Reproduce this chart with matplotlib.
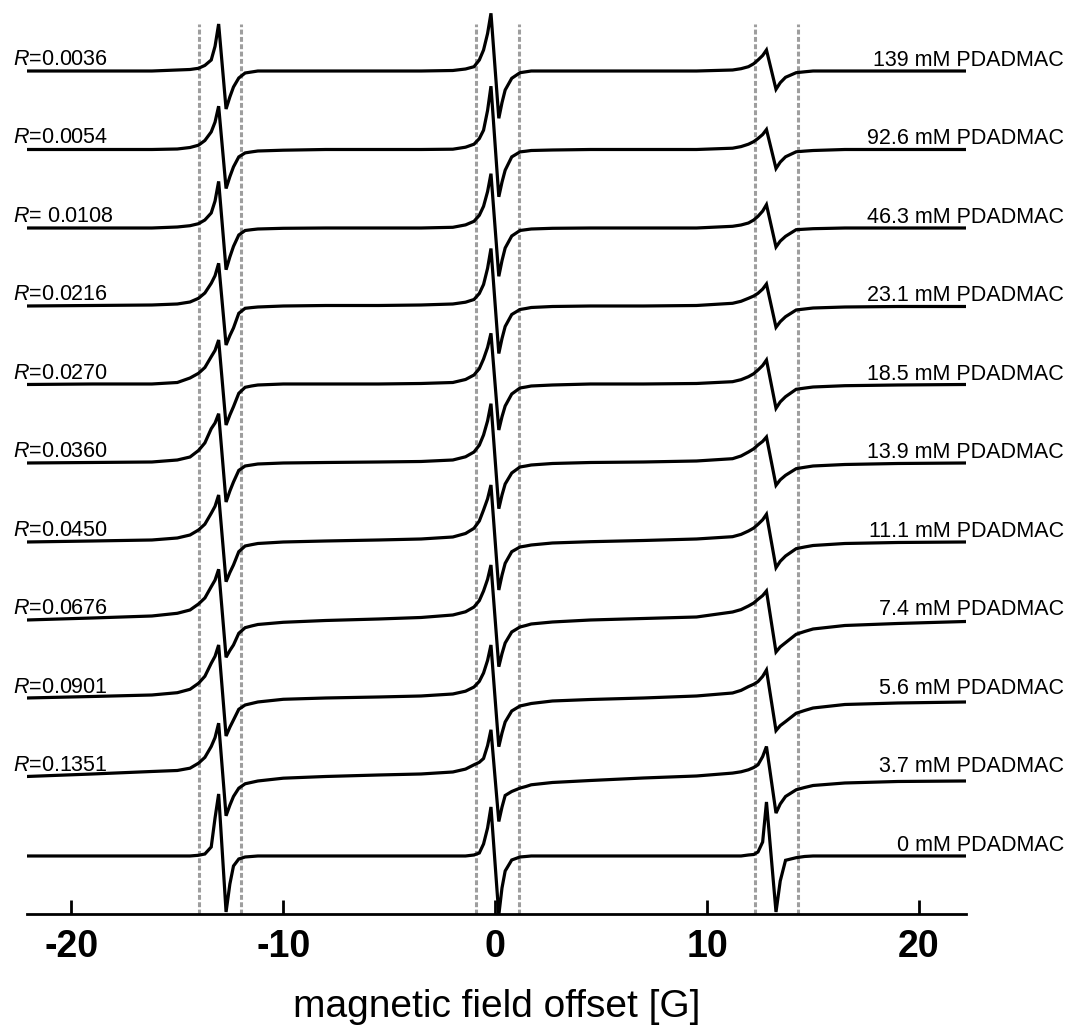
import numpy as np
import matplotlib.pyplot as plt
from matplotlib.transforms import blended_transform_factory

plt.rcParams['font.family'] = ['Liberation Sans', 'DejaVu Sans']
plt.rcParams['mathtext.fontset'] = 'custom'
plt.rcParams['mathtext.rm'] = 'Liberation Sans'
plt.rcParams['mathtext.it'] = 'Liberation Sans:italic'
plt.rcParams['axes.unicode_minus'] = False

# field offset [G] of the sampled points (low-field, central and high-field line)
field = [-22.1, -19.0, -16.2, -15.0, -14.4, -14.0, -13.7, -13.4, -13.22, -13.05,
         -12.7, -12.52, -12.35, -12.1, -11.8, -11.5, -11.2, -10.0, -8.0, -5.5, -3.5,
         -2.0, -1.4, -1.0, -0.75, -0.55, -0.36, -0.2, 0.17, 0.32, 0.47,
         0.78, 1.17, 1.45, 1.7, 2.7, 4.5, 7.0, 9.5,
         11.2, 11.6, 11.95, 12.2, 12.4, 12.62, 12.8, 13.25, 13.45, 13.7,
         14.2, 14.6, 15.0, 16.5, 19.0, 22.2]

# EPR signal (a.u.) for each PDADMAC concentration
s139 = [0, 0, 0, 1, 1.5, 2.7, 5.6, 11, 24.7, 47,
        -38, -25.9, -16, -7, -2, -1, 0, 0, 0, 0, 0,
        0.5, 2, 4.3, 11, 21, 37.5, 57.7, -47.3, -31.7, -19,
        -7.3, -1.7, -0.8, 0, 0, 0, 0, 0,
        1, 2.3, 4.3, 7.3, 11, 15.5, 21, -18.3, -11.7, -6.3,
        -1.7, -0.8, 0, 0, 0, 0]
s92_6 = [0, 0, 0, 0.5, 2, 4.3, 9, 17.6, 27.4, 43.3,
         -39, -27.1, -17.4, -7.4, -3.4, -2.4, -1.5, -0.7, 0, 0, 0,
         0.3, 2.3, 5.3, 10.9, 19.3, 39.1, 63.3, -47.3, -32.7, -20.7,
         -7.4, -2.4, -1.7, -1, -0.5, 0, 0, 0,
         1.3, 2.9, 5.3, 7.9, 11, 15, 20, -19, -12.6, -7.3,
         -2.3, -1.6, -1, 0, 0, 0]
s46_3 = [0, 0, 0, 1, 2.3, 4.3, 8, 15, 27, 46.6,
         -41.7, -28.9, -18.4, -7, -2.5, -1.7, -1, -0.3, 0, 0, 0,
         0.7, 3.1, 6.7, 12.7, 21.7, 36.4, 54.3, -48.3, -32.7, -20,
         -8, -2.5, -1.7, -1, -0.3, 0, 0, 0,
         1.7, 3, 5, 8, 11.7, 16.9, 23.3, -19, -13.1, -8.3,
         -1.7, -1.2, -0.7, 0, 0, 0]
s23_1 = [0.5, 1, 1.5, 2.5, 4.5, 8.2, 13.5, 23.2, 30.8, 43.2,
         -38.5, -29.1, -21.5, -6.8, -1.8, -1.1, -0.5, 0.5, 1, 1, 1.5,
         2.5, 4.3, 7, 13, 22, 38.2, 58, -47, -32.1, -20,
         -8, -3, -2, -1, 0, 0.5, 0.5, 1,
         3.2, 5.2, 8.2, 10.5, 13.2, 17.4, 22.5, -20.8, -15.2, -10.2,
         -3.5, -2.5, -1.5, -0.5, 0, 0]
s18_5 = [0.5, 1, 1, 2.5, 7, 11.7, 17.5, 28.3, 34.6, 45,
         -40, -30, -21.7, -8.3, -2.3, -1, 0, 1, 1, 1, 1.5,
         2.5, 5.5, 10, 16.4, 26, 37.6, 51.7, -45, -31.8, -21,
         -9, -3, -2, -1, 0, 1, 1, 1.5,
         3.3, 5.3, 8.3, 11.3, 15, 19.5, 25, -23.3, -16.9, -11.7,
         -4.3, -3.1, -2, -0.7, 0, 0.5]
s13_9 = [0.5, 1, 1.5, 3.5, 6.5, 13, 20.6, 34.8, 40.5, 49.8,
         -38.5, -27.5, -18.5, -6.9, -2.5, -1.5, -0.5, 0.5, 1, 1.5, 2,
         3.5, 6.7, 11.5, 18.3, 28.5, 42.6, 59.8, -45.2, -31.6, -20.5,
         -9.5, -3.5, -2.5, -1.5, 0, 1, 1.5, 2.5,
         4.8, 7.5, 11.5, 14.7, 18.5, 22.1, 26.5, -21.8, -16.3, -11.8,
         -5.2, -3.8, -2.5, -1, 0, 0.5]
s11_1 = [0, 1, 2, 4, 7, 12, 17.8, 28.7, 35.7, 47,
         -39.7, -30.5, -23, -9.7, -4, -2.7, -1.5, 0, 1, 2, 3,
         5, 8.5, 13.7, 21, 32, 43.2, 57, -48, -33.3, -21.3,
         -9.7, -5, -4, -3, -1, 0.3, 1.5, 3,
         5.3, 7.6, 11, 14, 17.7, 22.2, 27.7, -25.7, -19.3, -14,
         -6.7, -5, -3.5, -1.5, -0.5, 0]
s7_4 = [0.5, 2.5, 4.5, 7.2, 10.5, 16.5, 22.5, 33.8, 40.4, 51.2,
        -36.8, -30, -24.5, -12.8, -7.2, -5.5, -4, -1.8, 0, 1.5, 3,
        5.5, 8.7, 13.5, 19.9, 29.5, 41.2, 55.5, -46.2, -33.2, -22.5,
        -11.5, -6.5, -5, -3.5, -1.5, 0.5, 2, 3.5,
        8.5, 10.9, 14.5, 17.5, 21.2, 24.9, 29.5, -31.5, -26.4, -22.2,
        -13.8, -11, -8.5, -5, -3, -1]
s5_6 = [1, 2.5, 4, 6.3, 9.7, 15.7, 22.7, 35.7, 42.7, 54,
        -37, -28.2, -21, -10.3, -6, -4.5, -3, -0.3, 1, 2, 3,
        5, 7.8, 12, 17.6, 26, 38.6, 54, -47.7, -34.1, -23,
        -12, -7, -5.7, -4.5, -2, -0.5, 1, 3,
        6, 8.6, 12.4, 14.7, 17.4, 22.6, 29, -31.6, -26.6, -22.6,
        -14.3, -11.5, -9, -5.5, -4, -3]
s3_7 = [1, 3.5, 6, 7, 9.3, 14.3, 20.1, 31, 39.9, 54.3,
        -38.3, -27.7, -19, -10.7, -6.3, -4.9, -3.5, -0.7, 1, 2.5, 3.5,
        5.5, 8.4, 12.7, 15.2, 19, 31.9, 47.7, -44, -29.7, -18,
        -14, -10.6, -9, -7.3, -5, -3, -0.5, 1.5,
        4.4, 5.7, 7.7, 10, 12.7, 20.9, 31, -35.6, -26.5, -19,
        -12.3, -10, -8, -5.5, -4, -3.5]
s0 = [0, 0, 0, 0, 0, 0.7, 2, 9, 38, 62,
      -56, -28, -10, -3, -1, -0.5, 0, 0, 0, 0, 0,
      0, 0, 1, 3, 12, 28, 49, -59, -32, -15,
      -4, -1, -0.5, 0, 0, 0, 0, 0,
      0, 0, 1, 1.5, 4, 14, 54, -56, -25, -4.3,
      -1.7, -0.5, 0, 0, 0, 0]

# top to bottom
spectra = [s139, s92_6, s46_3, s23_1, s18_5, s13_9, s11_1, s7_4, s5_6, s3_7, s0]
conc_labels = ['139 mM PDADMAC', '92.6 mM PDADMAC', '46.3 mM PDADMAC',
               '23.1 mM PDADMAC', '18.5 mM PDADMAC', '13.9 mM PDADMAC',
               '11.1 mM PDADMAC', '7.4 mM PDADMAC', '5.6 mM PDADMAC',
               '3.7 mM PDADMAC', '0 mM PDADMAC']
ratio_labels = ['0.0036', '0.0054', ' 0.0108', '0.0216', '0.0270', '0.0360',
                '0.0450', '0.0676', '0.0901', '0.1351']
guide_lines = [-14.0, -12.0, -0.9, 1.1, 12.25, 14.3]

fig = plt.figure(figsize=(10.7, 10.31), dpi=100)
ax = fig.add_axes([0.0251, 0.1135, 0.8774, 0.8865])

for g in guide_lines:
    ax.axvline(g, ymin=0, ymax=0.974, color='#9e9e9e', lw=2.2,
               ls=(0, (1.6, 0.8)), zorder=1)

trans = blended_transform_factory(fig.transFigure, ax.transData)
n = len(spectra)
for i, s in enumerate(spectra):
    off = 58 + 78.5 * (n - 1 - i)
    ax.plot(field, np.array(s) + off, color='black', lw=2.3,
            solid_joinstyle='miter', zorder=2)
    ax.text(1064 / 1070, off + 5, conc_labels[i], transform=trans,
            ha='right', va='baseline', fontsize=15.5)
    if i < len(ratio_labels):
        ax.text(13 / 1070, off + 6, r'$R$=' + ratio_labels[i], transform=trans,
                ha='left', va='baseline', fontsize=15.5)

ax.set_xlim(-22.1, 22.2)
ax.set_ylim(0, 914)
for side in ['top', 'right', 'left']:
    ax.spines[side].set_visible(False)
ax.spines['bottom'].set_linewidth(2)
ax.set_yticks([])
ax.set_xticks([-20, -10, 0, 10, 20])
ax.tick_params(axis='x', direction='in', length=10, width=2, pad=11, labelsize=27)
for lab in ax.get_xticklabels():
    lab.set_fontweight('bold')
ax.set_xlabel('magnetic field offset [G]', fontsize=28, labelpad=17)

fig.savefig('out.png', dpi=100)
